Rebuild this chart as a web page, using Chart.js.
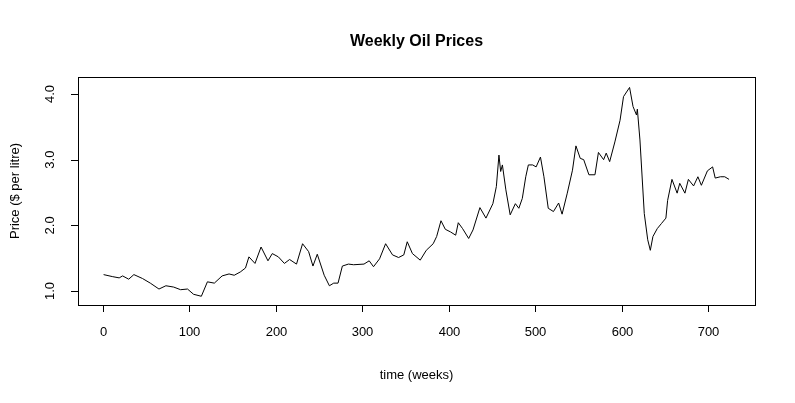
<!DOCTYPE html>
<html><head><meta charset="utf-8">
<script src="https://cdn.jsdelivr.net/npm/chart.js@4/dist/chart.umd.min.js"></script>
<style>html,body{margin:0;background:#fff}#wrap{width:795px;height:403px}</style>
</head><body><div id="wrap"><canvas id="c"></canvas></div>
<script>
// semanas y precios
const semanas = [1,11,19,23,30,36,46,55,65,73,82,90,98,105,114,121,129,138,146,152,159,165,169,176,183,191,196,203,210,216,224,231,238,243,248,256,262,267,272,277,284,290,302,308,313,320,327,335,342,348,352,358,367,374,382,386,391,396,402,408,411,416,423,428,436,443,451,455,458,460,462,466,471,477,481,485,489,492,497,501,506,510,515,521,527,531,537,543,547,552,556,562,569,573,579,582,586,592,598,602,609,613,617,618,621,626,630,633,636,641,646,651,653,658,664,667,673,677,683,688,692,699,705,708,714,719,724];
const precios = [1.25,1.22,1.20,1.23,1.18,1.25,1.19,1.12,1.03,1.08,1.06,1.02,1.03,0.95,0.92,1.14,1.12,1.23,1.26,1.24,1.29,1.35,1.52,1.42,1.67,1.46,1.57,1.52,1.42,1.48,1.41,1.72,1.60,1.38,1.56,1.24,1.08,1.12,1.12,1.38,1.41,1.40,1.41,1.46,1.37,1.49,1.72,1.55,1.51,1.55,1.75,1.57,1.47,1.62,1.72,1.83,2.07,1.94,1.90,1.85,2.04,1.95,1.80,1.93,2.27,2.11,2.33,2.59,3.07,2.82,2.92,2.54,2.16,2.33,2.26,2.41,2.74,2.92,2.92,2.89,3.04,2.74,2.26,2.21,2.34,2.17,2.49,2.84,3.21,3.02,3.00,2.77,2.77,3.11,3.00,3.10,2.97,3.27,3.60,3.96,4.10,3.81,3.68,3.77,3.30,2.18,1.78,1.62,1.83,1.95,2.03,2.11,2.38,2.70,2.49,2.64,2.49,2.70,2.60,2.74,2.61,2.83,2.89,2.72,2.74,2.74,2.70];
const ticksX = [0,100,200,300,400,500,600,700];
const ticksY = [1.0,2.0,3.0,4.0];

const fuente = '"Liberation Sans", Arial, sans-serif';

const ejesR = {
  id: 'ejesR',
  afterDraw(chart) {
    const ctx = chart.ctx, a = chart.chartArea;
    const sx = chart.scales.x, sy = chart.scales.y;
    ctx.save();
    ctx.strokeStyle = '#000'; ctx.fillStyle = '#000'; ctx.lineWidth = 1;
    ctx.strokeRect(a.left + 0.5, a.top + 0.5, a.right - a.left, a.bottom - a.top);
    // eje x
    const x0 = Math.round(sx.getPixelForValue(ticksX[0])) + 0.5;
    const x1 = Math.round(sx.getPixelForValue(ticksX[ticksX.length - 1])) + 0.5;
    ctx.beginPath(); ctx.moveTo(x0, a.bottom + 0.5); ctx.lineTo(x1, a.bottom + 0.5);
    ctx.font = '13px ' + fuente; ctx.textAlign = 'center'; ctx.textBaseline = 'middle';
    ticksX.forEach(t => {
      const px = Math.round(sx.getPixelForValue(t)) + 0.5;
      ctx.moveTo(px, a.bottom); ctx.lineTo(px, a.bottom + 7);
      ctx.fillText(String(t), px, a.bottom + 27);
    });
    // eje y
    const y0 = Math.round(sy.getPixelForValue(ticksY[0])) + 0.5;
    const y1 = Math.round(sy.getPixelForValue(ticksY[ticksY.length - 1])) + 0.5;
    ctx.moveTo(a.left + 0.5, y0); ctx.lineTo(a.left + 0.5, y1);
    ticksY.forEach(t => {
      const py = Math.round(sy.getPixelForValue(t)) + 0.5;
      ctx.moveTo(a.left, py); ctx.lineTo(a.left - 7, py);
    });
    ctx.stroke();
    ticksY.forEach(t => {
      const py = sy.getPixelForValue(t);
      ctx.save(); ctx.translate(a.left - 28, py); ctx.rotate(-Math.PI / 2);
      ctx.fillText(t.toFixed(1), 0, 0); ctx.restore();
    });
    // titulos
    ctx.fillText('time (weeks)', (a.left + a.right) / 2, 375);
    ctx.save(); ctx.translate(15, (a.top + a.bottom) / 2); ctx.rotate(-Math.PI / 2);
    ctx.fillText('Price ($ per litre)', 0, 0); ctx.restore();
    ctx.font = 'bold 16px ' + fuente;
    ctx.fillText('Weekly Oil Prices', (a.left + a.right) / 2, 42);
    ctx.restore();
  }
};

new Chart(document.getElementById('c'), {
  type: 'line',
  data: {
    datasets: [{
      data: semanas.map((s, i) => ({ x: s, y: precios[i] })),
      borderColor: '#000', borderWidth: 1, pointRadius: 0, tension: 0, fill: false
    }]
  },
  options: {
    responsive: true, maintainAspectRatio: false, animation: false,
    layout: { padding: { top: 77, right: 40, left: 0, bottom: 0 } },
    plugins: { legend: { display: false }, tooltip: { enabled: false } },
    scales: {
      x: { type: 'linear', min: -28.6, max: 754, grid: { display: false }, border: { display: false },
           ticks: { display: false }, afterFit(s) { s.height = 98; } },
      y: { min: 0.787, max: 4.259, grid: { display: false }, border: { display: false },
           ticks: { display: false }, afterFit(s) { s.width = 78; } }
    }
  },
  plugins: [ejesR]
});
</script>
</body></html>
